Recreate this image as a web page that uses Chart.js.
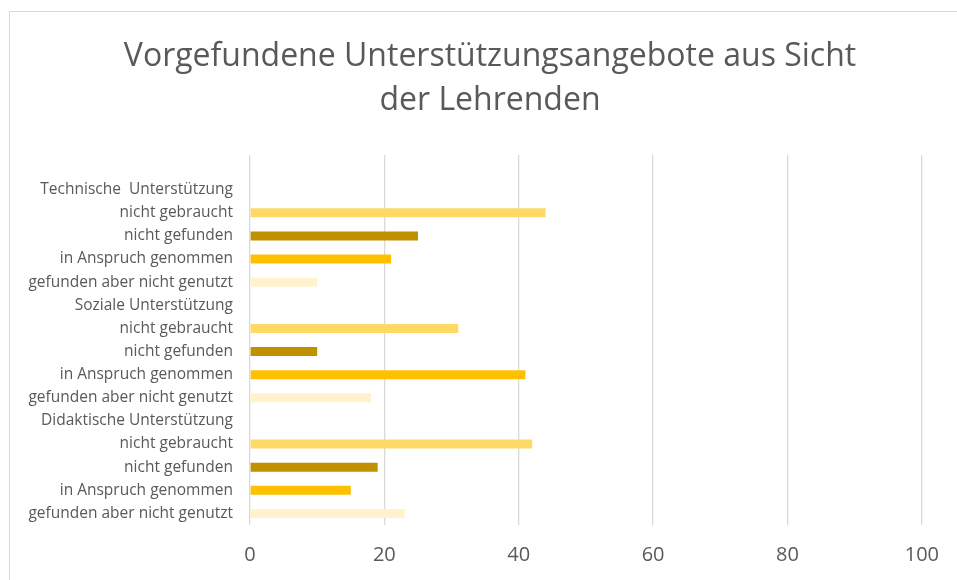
<!DOCTYPE html>
<html>
<head>
<meta charset="utf-8">
<script src="https://cdn.jsdelivr.net/npm/chart.js@4/dist/chart.umd.min.js"></script>
<style>
  html, body { margin: 0; padding: 0; background: #fff; }
  #wrap { position: relative; width: 957px; height: 580px; overflow: hidden; }
  #frame { position: absolute; left: 9px; top: 11px; width: 1000px; height: 620px; border: 1px solid #d9d9d9; box-sizing: border-box; }
  #c { position: absolute; left: 0; top: 0; }
</style>
</head>
<body>
<div id="wrap">
  <div id="frame"></div>
  <canvas id="c" width="957" height="580"></canvas>
</div>
<script>
// ---- data ----
const titleLines = ["Vorgefundene Unterstützungsangebote aus Sicht", "der Lehrenden"];
const groups = ["Technische  Unterstützung", "Soziale Unterstützung", "Didaktische Unterstützung"];
const answers = ["nicht gebraucht", "nicht gefunden", "in Anspruch genommen", "gefunden aber nicht genutzt"];
const technischeValues = [44, 25, 21, 10];
const sozialeValues = [31, 10, 41, 18];
const didaktischeValues = [42, 19, 15, 23];
const xTicks = [0, 20, 40, 60, 80, 100];

// ---- styles ----
const answerColors = ["#FFD966", "#BF9000", "#FFC000", "#FFF2CC"];

// build category list (blank slot at top, then header + answers per group)
const groupValues = [technischeValues, sozialeValues, didaktischeValues];
const labels = [""];
const values = [null];
const colors = ["#ffffff"];
groups.forEach((g, gi) => {
  labels.push(g); values.push(null); colors.push("#ffffff");
  answers.forEach((a, ai) => {
    labels.push(a); values.push(groupValues[gi][ai]); colors.push(answerColors[ai]);
  });
});

const textColor = "#595959";

// title drawn centred on the whole chart box (Excel-style)
const centeredTitle = {
  id: "centeredTitle",
  afterDraw(chart) {
    const ctx = chart.ctx;
    ctx.save();
    ctx.fillStyle = textColor;
    ctx.font = "32px 'Open Sans', sans-serif";
    ctx.textAlign = "center";
    ctx.textBaseline = "middle";
    titleLines.forEach((t, i) => ctx.fillText(t, 490, 57 + i * 44));
    ctx.restore();
  }
};

new Chart(document.getElementById("c"), {
  type: "bar",
  data: {
    labels: labels,
    datasets: [{
      data: values,
      backgroundColor: colors,
      borderWidth: 0,
      barPercentage: 0.39,
      categoryPercentage: 1.0
    }]
  },
  plugins: [centeredTitle],
  options: {
    indexAxis: "y",
    responsive: false,
    animation: false,
    devicePixelRatio: 1,
    layout: { padding: { left: 0, right: 35, top: 155, bottom: 0 } },
    plugins: {
      legend: { display: false },
      tooltip: { enabled: false },
      title: { display: false }
    },
    scales: {
      x: {
        min: 0, max: 100,
        afterBuildTicks: (s) => { s.ticks = xTicks.map(v => ({ value: v })); },
        afterFit: (s) => { s.height = 55; },
        grid: { color: "#d9d9d9", lineWidth: 1.3, drawTicks: false },
        border: { display: false },
        ticks: { color: textColor, padding: 18, font: { family: "'Open Sans', sans-serif", size: 20 } }
      },
      y: {
        afterFit: (s) => { s.width = 250; },
        grid: { display: false, drawTicks: false },
        border: { display: false },
        ticks: { color: textColor, padding: 17, autoSkip: false, font: { family: "'Open Sans', sans-serif", size: 15.5 } }
      }
    }
  }
});
</script>
</body>
</html>
